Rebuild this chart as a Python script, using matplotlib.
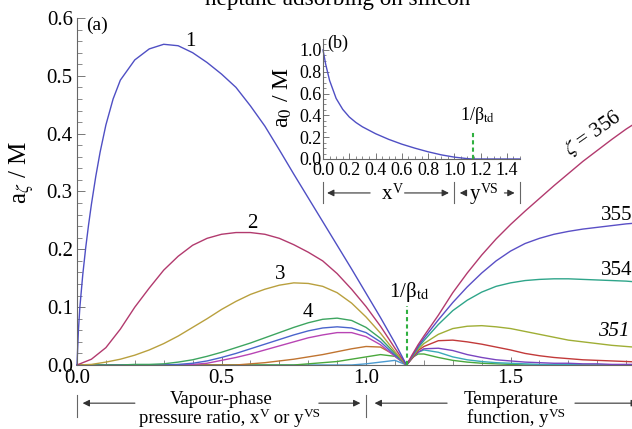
import matplotlib
matplotlib.use("Agg")
import matplotlib.pyplot as plt
from matplotlib.ticker import MultipleLocator, FixedLocator

plt.rcParams['font.family'] = ['Liberation Serif', 'DejaVu Serif']
plt.rcParams['mathtext.fontset'] = 'stix'

# ---- data ----
beta_inv = 1.14

# left branch, zeta = 1 (own grid, steep start)
x1 = [0, 0.005, 0.01, 0.02, 0.03, 0.04, 0.05, 0.065, 0.08, 0.1, 0.125, 0.15, 0.2, 0.25,
      0.3, 0.35, 0.4, 0.45, 0.5, 0.55, 0.6, 0.65, 0.7, 0.75, 0.8, 0.85, 0.9, 0.95,
      1.0, 1.05, 1.1, 1.14]
a1 = [0, 0.06, 0.10, 0.156, 0.202, 0.242, 0.278, 0.326, 0.368, 0.415, 0.46, 0.4925, 0.5275, 0.5465,
      0.5545, 0.552, 0.540, 0.523, 0.503, 0.480, 0.448, 0.413, 0.372, 0.330, 0.289, 0.248, 0.207, 0.166,
      0.124, 0.082, 0.038, 0.0]

# left branch, zeta = 2..9
xl = [0.0, 0.05, 0.1, 0.15, 0.2, 0.25, 0.3, 0.35, 0.4, 0.45, 0.5, 0.55, 0.6, 0.65,
      0.7, 0.75, 0.8, 0.85, 0.9, 0.95, 1.0, 1.05, 1.1, 1.14]
a2 = [0, 0.01, 0.03, 0.062, 0.1, 0.133, 0.164, 0.188, 0.207, 0.219, 0.226, 0.229, 0.229, 0.226,
      0.219, 0.208, 0.195, 0.180, 0.158, 0.131, 0.101, 0.067, 0.029, 0]
a3 = [0, 0.001, 0.005, 0.01, 0.017, 0.026, 0.037, 0.05, 0.065, 0.08, 0.096, 0.11, 0.122, 0.131,
      0.138, 0.142, 0.141, 0.136, 0.125, 0.107, 0.083, 0.055, 0.023, 0]
a4 = [0, 0, 0, 0, 0.001, 0.001, 0.002, 0.005, 0.009, 0.015, 0.022, 0.03, 0.038, 0.047,
      0.056, 0.065, 0.073, 0.079, 0.081, 0.077, 0.065, 0.046, 0.02, 0]
a5 = [0, 0, 0, 0, 0, 0, 0, 0.001, 0.003, 0.007, 0.013, 0.02, 0.028, 0.036,
      0.044, 0.052, 0.059, 0.064, 0.066, 0.064, 0.056, 0.04, 0.017, 0]
a6 = [0, 0, 0, 0, 0, 0, 0, 0, 0.001, 0.003, 0.008, 0.013, 0.019, 0.026,
      0.033, 0.040, 0.047, 0.052, 0.056, 0.056, 0.049, 0.035, 0.015, 0]
a7 = [0, 0, 0, 0, 0, 0, 0, 0, 0, 0, 0, 0, 0.002, 0.004,
      0.007, 0.01, 0.014, 0.018, 0.023, 0.028, 0.032, 0.031, 0.017, 0]
a8 = [0, 0, 0, 0, 0, 0, 0, 0, 0, 0, 0, 0, 0, 0,
      0, 0, 0.002, 0.004, 0.006, 0.01, 0.014, 0.018, 0.015, 0]
a9 = [0, 0, 0, 0, 0, 0, 0, 0, 0, 0, 0, 0, 0, 0,
      0, 0, 0, 0, 0, 0, 0.002, 0.005, 0.008, 0]

# right branch (temperature function)
xr = [1.14, 1.16, 1.18, 1.2, 1.25, 1.3, 1.35, 1.4, 1.45, 1.5, 1.55, 1.6, 1.65,
      1.7, 1.75, 1.8, 1.85, 1.9, 1.95]
r356 = [0, 0.018, 0.035, 0.05, 0.086, 0.125, 0.159, 0.19, 0.218, 0.243, 0.266, 0.288, 0.31,
        0.331, 0.352, 0.371, 0.39, 0.408, 0.424]
r355 = [0, 0.016, 0.032, 0.046, 0.078, 0.108, 0.135, 0.159, 0.18, 0.197, 0.21, 0.219, 0.226,
        0.231, 0.235, 0.238, 0.241, 0.244, 0.246]
r354 = [0, 0.015, 0.03, 0.042, 0.07, 0.094, 0.112, 0.126, 0.136, 0.142, 0.146, 0.148, 0.149,
        0.149, 0.148, 0.147, 0.146, 0.145, 0.143]
r351 = [0, 0.014, 0.027, 0.037, 0.053, 0.063, 0.067, 0.068, 0.066, 0.063, 0.058, 0.053, 0.048,
        0.043, 0.04, 0.037, 0.034, 0.032, 0.03]
r353 = [0, 0.012, 0.025, 0.032, 0.042, 0.043, 0.04, 0.036, 0.031, 0.026, 0.02, 0.016, 0.013,
        0.011, 0.009, 0.008, 0.007, 0.006, 0.005]
r352 = [0, 0.012, 0.022, 0.028, 0.029, 0.025, 0.018, 0.013, 0.009, 0.007, 0.005, 0.004, 0.003,
        0.003, 0.002, 0.002, 0.001, 0.001, 0.001]
r350 = [0, 0.013, 0.022, 0.026, 0.022, 0.014, 0.009, 0.006, 0.004, 0.003, 0.002, 0.001, 0.001,
        0.001, 0, 0, 0, 0, 0]
r349 = [0, 0.013, 0.019, 0.019, 0.013, 0.008, 0.005, 0.003, 0.002, 0.001, 0, 0, 0,
        0, 0, 0, 0, 0, 0]

# inset (b): a_0
x0 = [0, 0.02, 0.05, 0.1, 0.15, 0.2, 0.25, 0.3, 0.4, 0.5, 0.6, 0.7, 0.8, 0.9, 1.0, 1.1, 1.14, 1.5]
a0 = [1.0, 0.87, 0.72, 0.555, 0.455, 0.385, 0.335, 0.295, 0.232, 0.18, 0.136, 0.099, 0.066, 0.038,
      0.017, 0.003, 0, 0]

left_series = [(x1, a1, '#4f4fc4'), (xl, a2, '#b23a6e'), (xl, a3, '#b9a03e'), (xl, a4, '#3da560'),
               (xl, a5, '#4a64cc'), (xl, a6, '#b844b4'), (xl, a7, '#c07430'), (xl, a8, '#4aa83c'),
               (xl, a9, '#4a9ad0')]
right_series = [(r349, '#4aa83c'), (r350, '#3aaab8'), (r352, '#7a45c0'), (r353, '#c23a3a'),
                (r351, '#9fae35'), (r354, '#2fa58a'), (r355, '#5a4fc6'), (r356, '#b23a6e')]


def sup_line(ax, x, y, parts, transform, size=13.5, ssize=9.5, rise=4.5):
    # text pieces chained one after another; superscripts small and only slightly raised
    first = ax.text(x, y, parts[0][0], transform=transform, ha='left', va='baseline',
                    fontsize=size)
    prev, prev_size, prev_rise = first, size, 0.0
    for txt, sup in parts[1:]:
        fs = ssize if sup else size
        r = rise if sup else 0.0
        # bbox bottom of previous piece is its baseline minus the font descent
        dy = r - (prev_rise - 0.216 * prev_size)
        prev = ax.annotate(txt, xy=(1, 0), xycoords=prev, xytext=(0.3 if sup else 0, dy),
                           textcoords='offset points', ha='left', va='baseline', fontsize=fs,
                           annotation_clip=False)
        prev_size, prev_rise = fs, r


fig = plt.figure(figsize=(6.32, 4.29), dpi=100)
ax = fig.add_axes([0.1218, 0.1492, 0.8782, 0.8089])

for xs, ys, c in left_series[::-1]:
    ax.plot(xs, ys, color=c, lw=1.0, clip_on=False)
for ys, c in right_series:
    ax.plot(xr, ys, color=c, lw=1.0)

ax.set_xlim(0, 1.92)
ax.set_ylim(0, 0.6)
for s in ['top', 'right']:
    ax.spines[s].set_visible(False)
for s in ['left', 'bottom']:
    ax.spines[s].set_color('#666666')
    ax.spines[s].set_linewidth(0.8)
ax.xaxis.set_major_locator(FixedLocator([0, 0.5, 1.0, 1.5]))
ax.xaxis.set_minor_locator(MultipleLocator(0.1))
ax.yaxis.set_major_locator(MultipleLocator(0.1))
ax.yaxis.set_minor_locator(MultipleLocator(0.02))
ax.xaxis.set_major_formatter(plt.FuncFormatter(lambda v, p: f"{v:.1f}"))
ax.yaxis.set_major_formatter(plt.FuncFormatter(lambda v, p: f"{v:.1f}"))
ax.tick_params(which='both', direction='in', color='#777777', labelsize=15)
ax.tick_params(which='major', length=6, width=0.7, pad=3)
ax.tick_params(which='minor', length=3.5, width=0.6)

ax.text(-0.099, 0.556, r'a$_\zeta$ / M', transform=ax.transAxes, rotation=90,
        ha='center', va='center', fontsize=18)
ax.text(0.069, 0.588, '(a)', fontsize=14, ha='center', va='center')
ax.text(0.391, 0.559, '1', fontsize=15, ha='center', va='center')
ax.text(0.606, 0.245, '2', fontsize=15, ha='center', va='center')
ax.text(0.702, 0.156, '3', fontsize=15, ha='center', va='center')
ax.text(0.80, 0.090, '4', fontsize=15, ha='center', va='center')
ax.text(1.785, 0.401, r'$\zeta$ = 356', fontsize=15, ha='center', va='center', rotation=35)
ax.text(1.867, 0.259, '355', fontsize=15, ha='center', va='center')
ax.text(1.867, 0.164, '354', fontsize=15, ha='center', va='center')
ax.text(1.856, 0.058, '351', fontsize=15, ha='center', va='center', style='italic')

ax.plot([beta_inv, beta_inv], [0, 0.102], color='#30b040', lw=1.5, ls=(0, (2, 1.5)))
ax.text(beta_inv + 0.01, 0.127, r'1/β$_{\rm td}$', fontsize=15, ha='center', va='center')

# bracket annotations under the main x axis
tr = ax.get_xaxis_transform()
arrow_kw = dict(arrowstyle='-|>', color='#333333', lw=0.8, mutation_scale=10)
for xb in [0.0, 1.0]:
    ax.plot([xb, xb], [-0.087, -0.15], transform=tr, color='#666666', lw=0.8, clip_on=False)
for x_from, x_to in [(0.21, 0.01), (0.827, 0.99), (1.29, 1.02), (1.713, 1.95)]:
    ax.annotate('', xy=(x_to, -0.11), xytext=(x_from, -0.11), xycoords=tr, textcoords=tr,
                arrowprops=arrow_kw, annotation_clip=False)
ax.text(0.5, -0.1124, 'Vapour-phase', transform=tr, ha='center', va='baseline', fontsize=13.5)
sup_line(ax, 0.2145, -0.167, [('pressure ratio, x', False), ('V', True), (' or y', False),
                              ('VS', True)], tr)
ax.text(1.5, -0.1124, 'Temperature', transform=tr, ha='center', va='baseline', fontsize=13.5)
sup_line(ax, 1.349, -0.167, [('function, y', False), ('VS', True)], tr)

# inset (b)
axi = fig.add_axes([0.5111, 0.6294, 0.3117, 0.2797])
axi.plot(x0, a0, color='#4f4fc4', lw=1.0, clip_on=False)
axi.plot([beta_inv, beta_inv], [0, 0.266], color='#30b040', lw=1.5, ls=(0, (2, 1.5)))
axi.text(1.18, 0.40, r'1/β$_{\rm td}$', fontsize=13, ha='center', va='center')
axi.text(0.115, 1.064, '(b)', fontsize=13, ha='center', va='center')
axi.set_xlim(0, 1.5)
axi.set_ylim(0, 1.1)
axi.patch.set_alpha(0)
for s in ['top', 'right']:
    axi.spines[s].set_visible(False)
for s in ['left', 'bottom']:
    axi.spines[s].set_color('#666666')
    axi.spines[s].set_linewidth(0.8)
axi.xaxis.set_major_locator(MultipleLocator(0.2))
axi.xaxis.set_minor_locator(MultipleLocator(0.05))
axi.yaxis.set_major_locator(MultipleLocator(0.2))
axi.yaxis.set_minor_locator(MultipleLocator(0.05))
axi.xaxis.set_major_formatter(plt.FuncFormatter(lambda v, p: f"{v:.1f}"))
axi.yaxis.set_major_formatter(plt.FuncFormatter(lambda v, p: f"{v:.1f}"))
axi.tick_params(which='both', direction='in', color='#777777', labelsize=13)
axi.tick_params(which='major', length=4.5, width=0.7, pad=2)
axi.tick_params(which='minor', length=2.5, width=0.6)
axi.tick_params(axis='y', which='major', pad=1)
axi.text(-0.203, 0.51, r'a$_0$ / M', transform=axi.transAxes, rotation=90,
         ha='center', va='center', fontsize=17)

tri = axi.get_xaxis_transform()
for xb in [0.0, 1.0, 1.5]:
    axi.plot([xb, xb], [-0.19, -0.367], transform=tri, color='#666666', lw=0.8, clip_on=False)
for x_from, x_to in [(0.38, 0.01), (0.60, 0.98), (1.10, 1.02), (1.36, 1.48)]:
    axi.annotate('', xy=(x_to, -0.283), xytext=(x_from, -0.283), xycoords=tri, textcoords=tri,
                 arrowprops=arrow_kw, annotation_clip=False)
sup_line(axi, 0.45, -0.333, [('x', False), ('V', True)], tri, size=15, ssize=10, rise=5.0)
sup_line(axi, 1.12, -0.333, [('y', False), ('VS', True)], tri, size=15, ssize=10, rise=5.0)

# title, mostly cut off at the top edge
fig.text(0.535, 0.9883, 'heptane adsorbing on silicon', ha='center', va='baseline', fontsize=16.7)

fig.savefig('out.png', dpi=100)
